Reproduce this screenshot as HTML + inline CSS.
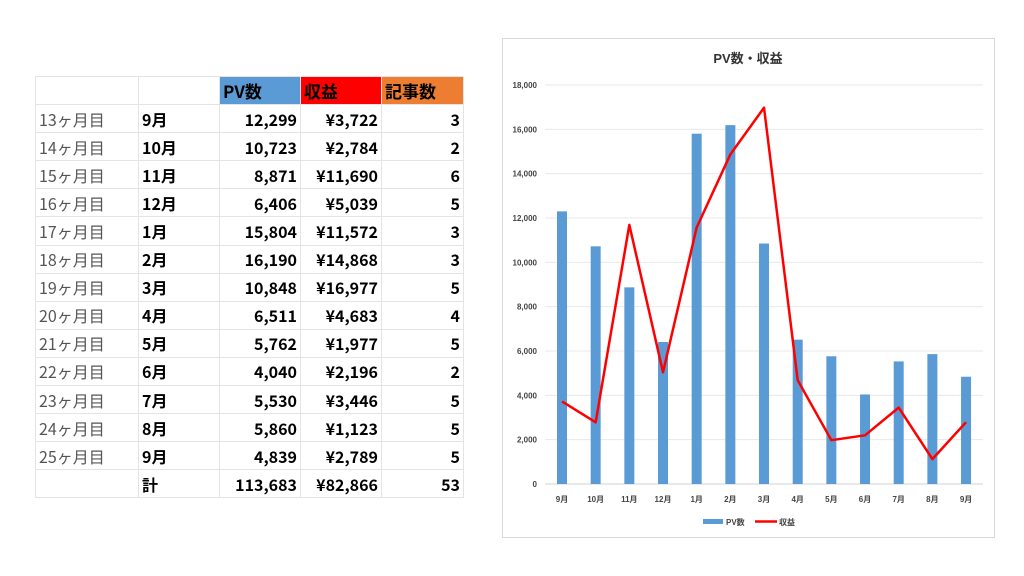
<!DOCTYPE html>
<html><head><meta charset="utf-8"><style>
body{margin:0;width:1024px;height:576px;background:#fff;position:relative;overflow:hidden;font-family:"Liberation Sans","Noto Sans CJK JP",sans-serif}
table{position:absolute;left:35px;top:76px;border-collapse:collapse;table-layout:fixed;font-family:"Noto Sans CJK JP",sans-serif}
td{border:1px solid #e4e4e4;height:27.1px;line-height:20px;padding:0 3px;font-size:16px;color:#000;white-space:nowrap;vertical-align:middle;overflow:hidden}
td.a{color:#555;font-weight:normal}
td.b{font-weight:bold}
td.n{text-align:right;font-weight:bold}
.h{font-weight:bold;font-size:17px}
</style></head><body>
<table>
<colgroup><col style="width:103px"><col style="width:81px"><col style="width:81px"><col style="width:81px"><col style="width:82px"></colgroup>
<tr><td></td><td></td><td class="h" style="background:#5b9bd5">PV数</td><td class="h" style="background:#ff0000">収益</td><td class="h" style="background:#ed7d31">記事数</td></tr>
<tr><td class="a">13ヶ月目</td><td class="b">9月</td><td class="n">12,299</td><td class="n">¥3,722</td><td class="n">3</td></tr>
<tr><td class="a">14ヶ月目</td><td class="b">10月</td><td class="n">10,723</td><td class="n">¥2,784</td><td class="n">2</td></tr>
<tr><td class="a">15ヶ月目</td><td class="b">11月</td><td class="n">8,871</td><td class="n">¥11,690</td><td class="n">6</td></tr>
<tr><td class="a">16ヶ月目</td><td class="b">12月</td><td class="n">6,406</td><td class="n">¥5,039</td><td class="n">5</td></tr>
<tr><td class="a">17ヶ月目</td><td class="b">1月</td><td class="n">15,804</td><td class="n">¥11,572</td><td class="n">3</td></tr>
<tr><td class="a">18ヶ月目</td><td class="b">2月</td><td class="n">16,190</td><td class="n">¥14,868</td><td class="n">3</td></tr>
<tr><td class="a">19ヶ月目</td><td class="b">3月</td><td class="n">10,848</td><td class="n">¥16,977</td><td class="n">5</td></tr>
<tr><td class="a">20ヶ月目</td><td class="b">4月</td><td class="n">6,511</td><td class="n">¥4,683</td><td class="n">4</td></tr>
<tr><td class="a">21ヶ月目</td><td class="b">5月</td><td class="n">5,762</td><td class="n">¥1,977</td><td class="n">5</td></tr>
<tr><td class="a">22ヶ月目</td><td class="b">6月</td><td class="n">4,040</td><td class="n">¥2,196</td><td class="n">2</td></tr>
<tr><td class="a">23ヶ月目</td><td class="b">7月</td><td class="n">5,530</td><td class="n">¥3,446</td><td class="n">5</td></tr>
<tr><td class="a">24ヶ月目</td><td class="b">8月</td><td class="n">5,860</td><td class="n">¥1,123</td><td class="n">5</td></tr>
<tr><td class="a">25ヶ月目</td><td class="b">9月</td><td class="n">4,839</td><td class="n">¥2,789</td><td class="n">5</td></tr>
<tr><td></td><td class="b">計</td><td class="n">113,683</td><td class="n">¥82,866</td><td class="n">53</td></tr>
</table>
<svg style="position:absolute;left:0;top:0" width="1024" height="576" font-family="Liberation Sans,Noto Sans CJK JP,sans-serif">
<rect x="502.5" y="38.5" width="492" height="499" fill="#fff" stroke="#d9d9d9"/>
<text x="748" y="63" text-anchor="middle" font-size="13" font-weight="bold" fill="#333">PV数・収益</text>
<g id="g"></g>
</svg>
<script>
var g=document.getElementById('g'),s='';
var pv=[12299,10723,8871,6406,15804,16190,10848,6511,5762,4040,5530,5860,4839];
var rv=[3722,2784,11690,5039,11572,14868,16977,4683,1977,2196,3446,1123,2789];
var lb=['9月','10月','11月','12月','1月','2月','3月','4月','5月','6月','7月','8月','9月'];
function Y(v){return 484-v*399/18000}
for(var i=0;i<=9;i++){var y=Y(i*2000);s+='<line x1="545" x2="983" y1="'+y+'" y2="'+y+'" stroke="'+(i?'#e8e8e8':'#d0d0d0')+'"/>';
s+='<text x="537" y="'+(y+3)+'" text-anchor="end" font-size="8" font-weight="bold" fill="#444">'+(i?(i*2000).toLocaleString('en-US'):'0')+'</text>';}
var pts=[];
for(var i=0;i<13;i++){var cx=562+i*33.67;s+='<rect x="'+(cx-5)+'" y="'+Y(pv[i])+'" width="10" height="'+(484-Y(pv[i]))+'" fill="#5b9bd5"/>';
s+='<text x="'+cx+'" y="502" text-anchor="middle" font-size="8" font-weight="bold" fill="#444">'+lb[i]+'</text>';pts.push(cx+','+Y(rv[i]));}
s+='<polyline points="'+pts.join(' ')+'" fill="none" stroke="#ff0000" stroke-width="2.5" stroke-linejoin="round"/>';
s+='<rect x="703" y="519" width="20" height="5" fill="#5b9bd5"/><text x="726" y="525" font-size="8" font-weight="bold" fill="#444">PV数</text>';
s+='<line x1="755" x2="777" y1="521.5" y2="521.5" stroke="#ff0000" stroke-width="2.5"/><text x="779" y="525" font-size="8" font-weight="bold" fill="#444">収益</text>';
g.innerHTML=s;
</script>
</body></html>
